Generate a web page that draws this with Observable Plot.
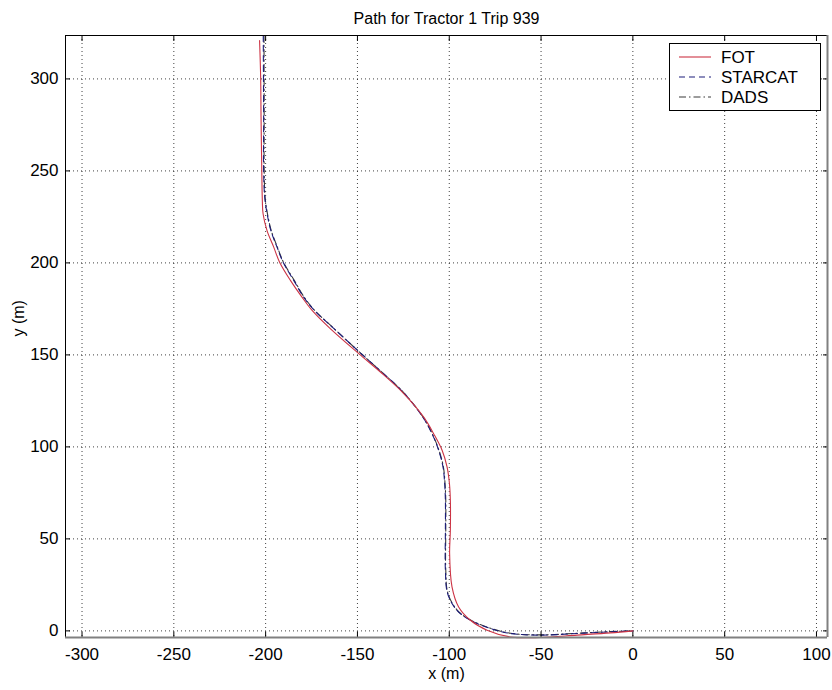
<!DOCTYPE html>
<html><head><meta charset="utf-8">
<script src="https://cdn.jsdelivr.net/npm/d3@7"></script>
<script src="https://cdn.jsdelivr.net/npm/@observablehq/plot@0.6"></script>
<style>body{margin:0;background:#fff;}</style>
</head><body><div id="chart"></div>
<script>
const titleText = "Path for Tractor 1 Trip 939";
const xLabel = "x (m)";
const yLabel = "y (m)";
const seriesNames = ["FOT", "STARCAT", "DADS"];
const xTicks = [-300, -250, -200, -150, -100, -50, 0, 50, 100];
const yTicks = [0, 50, 100, 150, 200, 250, 300];

const fotX = [-203.3,-202.7,-202.5,-202.1,-201.8,-201.4,-199.2,-195.6,-192.4,-186.5,-180.2,-174.7,-164.8,-149.3,-137.5,-124.8,-113.9,-108.5,-103.9,-101.2,-99.9,-99.4,-99.4,-99.8,-98.5,-94.9,-88.5,-79.4,-66.7,-50.4,-30.4,-12.3,0];
const fotY = [320.8,300.2,279.2,250.2,233.9,226.7,217.4,208.6,200.4,190.5,181.4,174.2,164.3,150.7,140.7,129.0,116.2,107.2,98.2,89.1,80.1,71.0,54.7,42.0,23.9,13.0,5.8,0.4,-3.3,-3.6,-2.3,-1.1,0];

const starcatX = [-201.3,-201.1,-201.1,-200.5,-199.2,-197.1,-193.8,-190.5,-184.7,-179.3,-173.5,-164.8,-149.3,-137.5,-124.8,-113.9,-109.4,-105.8,-103.4,-102.5,-102.1,-102.1,-102.1,-100.9,-95.8,-88.5,-77.6,-66.7,-50.4,-30.4,-12.3,0];
const starcatY = [323.6,279.2,250.2,235.7,226.7,217.4,208.6,200.4,190.5,181.4,174.2,166.1,151.9,141.3,129.4,115.4,107.2,98.2,89.1,80.1,71.0,54.7,33.0,20.3,11.2,5.8,1.3,-1.4,-2.3,-1.4,-0.5,0];

const dadsX = [-200.9,-200.8,-200.8,-200.3,-199.0,-196.9,-193.6,-190.3,-184.4,-179.0,-173.3,-164.6,-149.2,-137.4,-124.7,-113.8,-109.3,-105.6,-103.2,-102.3,-101.9,-101.9,-101.9,-100.7,-95.6,-88.4,-77.5,-66.6,-50.3,-30.3,-12.2,0];
const dadsY = [323.6,279.2,250.2,235.7,226.7,217.4,208.6,200.4,190.5,181.4,174.2,166.0,151.8,141.2,129.4,115.5,107.2,98.2,89.1,80.1,71.0,54.7,33.0,20.3,11.2,5.9,1.4,-1.3,-2.2,-1.3,-0.4,0];

const styles = {
  FOT: {stroke: "#cc3344", dash: null},
  STARCAT: {stroke: "#1c1c7a", dash: "6,4"},
  DADS: {stroke: "#3a3a3a", dash: "7,3,1.5,3"}
};

const toRows = (xs, ys) => xs.map((x, i) => ({x, y: ys[i]}));
const seriesData = {
  FOT: toRows(fotX, fotY),
  STARCAT: toRows(starcatX, starcatY),
  DADS: toRows(dadsX, dadsY)
};

const xDomain = [-309, 106];
const yDomain = [-3.6, 323.6];
const font = "'Liberation Sans', Arial, sans-serif";
const plainFormat = d => String(d);

const chart = Plot.plot({
  width: 832, height: 690,
  marginLeft: 65, marginRight: 5, marginTop: 35, marginBottom: 53,
  style: {fontFamily: font, background: "#fff", color: "#000"},
  x: {domain: xDomain},
  y: {domain: yDomain},
  marks: [
    Plot.gridX(xTicks, {stroke: "#000", strokeOpacity: 0.75, strokeDasharray: "1,3"}),
    Plot.gridY(yTicks, {stroke: "#000", strokeOpacity: 0.75, strokeDasharray: "1,3"}),
    ...["DADS", "STARCAT", "FOT"].map(name => Plot.line(seriesData[name], {
      x: "x", y: "y", stroke: styles[name].stroke, strokeWidth: 1.1,
      strokeDasharray: styles[name].dash, curve: "catmull-rom"
    })),
    Plot.axisX({ticks: xTicks, anchor: "bottom", tickSize: 0, tickPadding: 10, fontSize: 17, label: null, tickFormat: plainFormat}),
    Plot.axisY({ticks: yTicks, anchor: "left", tickSize: 0, tickPadding: 7, fontSize: 17, label: null, tickFormat: plainFormat}),
    Plot.axisX({ticks: xTicks, anchor: "bottom", tickSize: -5, tickFormat: () => "", label: null}),
    Plot.axisX({ticks: xTicks, anchor: "top", tickSize: -5, tickFormat: () => "", label: null}),
    Plot.axisY({ticks: yTicks, anchor: "left", tickSize: -5, tickFormat: () => "", label: null}),
    Plot.axisY({ticks: yTicks, anchor: "right", tickSize: -5, tickFormat: () => "", label: null}),
    Plot.ruleX([xDomain[0]], {stroke: "#000"}),
    Plot.ruleY([yDomain[1]], {stroke: "#000"}),
    Plot.ruleY([yDomain[0]], {stroke: "#808080", strokeWidth: 2}),
    Plot.ruleX([xDomain[1]], {stroke: "#808080", strokeWidth: 2}),
    Plot.text([titleText], {frameAnchor: "top", dy: -23, fontSize: 16, fill: "#000"}),
    Plot.text([xLabel], {frameAnchor: "bottom", dy: 41, fontSize: 16, fill: "#000"}),
    Plot.text([yLabel], {frameAnchor: "left", dx: -47, rotate: -90, fontSize: 16, fill: "#000"})
  ]
});
document.getElementById("chart").appendChild(chart);

// legend
const svg = d3.select(chart);
const lg = svg.append("g").attr("font-family", font).attr("font-size", 17).attr("text-anchor", "start");
lg.append("rect").attr("x", 669.5).attr("y", 43.5).attr("width", 151).attr("height", 67)
  .attr("fill", "#fff").attr("stroke", "#000");
seriesNames.forEach((name, i) => {
  const yy = 57 + 20 * i;
  lg.append("line").attr("x1", 679).attr("x2", 711).attr("y1", yy).attr("y2", yy)
    .attr("stroke", styles[name].stroke).attr("stroke-width", 1.1)
    .attr("stroke-dasharray", styles[name].dash);
  lg.append("text").attr("x", 721).attr("y", yy).attr("dy", "0.35em")
    .attr("text-anchor", "start").attr("fill", "#000").text(name);
});
</script>
</body></html>
